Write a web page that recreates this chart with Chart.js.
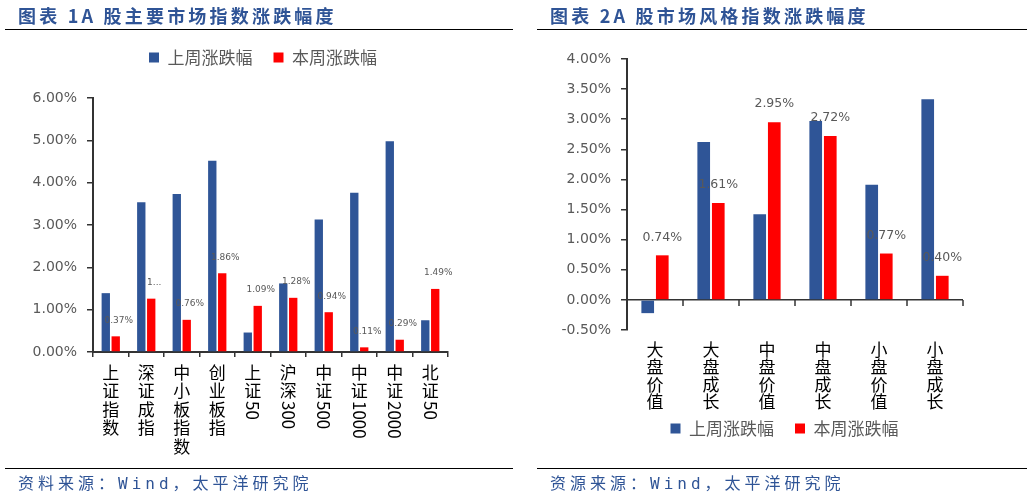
<!DOCTYPE html>
<html lang="zh-CN">
<head>
<meta charset="utf-8">
<title>A股市场指数涨跌幅度</title>
<script src="https://cdn.jsdelivr.net/npm/chart.js@4.4.1/dist/chart.umd.min.js"></script>
<style>
  html, body { margin: 0; padding: 0; background: #fff; }
  #page { position: relative; width: 1032px; height: 500px; overflow: hidden; }
  canvas { position: absolute; top: 0; }
  .title { position: absolute; top: 5px; font: bold 18px "Noto Sans CJK SC"; color: #2F5496; letter-spacing: 3.2px; line-height: 21px; white-space: nowrap; }
  .rule { position: absolute; height: 1px; background: #000; }
  .source { position: absolute; top: 474px; font: 16px "DejaVu Sans Mono", "Noto Sans CJK SC"; color: #2F5496; letter-spacing: 4px; line-height: 20px; white-space: nowrap; }
</style>
</head>
<body>
<div id="page">
  <canvas id="chart1" width="520" height="500" style="left:0"></canvas>
  <canvas id="chart2" width="512" height="500" style="left:520px"></canvas>

  <div class="title" style="left:18px">图表 1A 股主要市场指数涨跌幅度</div>
  <div class="title" style="left:550px">图表 2A 股市场风格指数涨跌幅度</div>
  <div class="rule" style="left:5px; top:29px; width:508px"></div>
  <div class="rule" style="left:537px; top:29px; width:490px"></div>
  <div class="rule" style="left:5px; top:468px; width:508px"></div>
  <div class="rule" style="left:537px; top:468px; width:490px"></div>
  <div class="source" style="left:18px">资料来源：Wind，太平洋研究院</div>
  <div class="source" style="left:550px">资源来源：Wind，太平洋研究院</div>
</div>

<script>
// ================== 数据 ==================
const seriesNames = ["上周涨跌幅", "本周涨跌幅"];

// 图表1：主要市场指数 (%)
const indexNames = ["上证指数", "深证成指", "中小板指数", "创业板指", "上证50", "沪深300", "中证500", "中证1000", "中证2000", "北证50"];
const indexLastWeek = [1.39, 3.54, 3.73, 4.52, 0.46, 1.62, 3.13, 3.76, 4.98, 0.75];
const indexThisWeek = [0.37, 1.26, 0.76, 1.86, 1.09, 1.28, 0.94, 0.11, 0.29, 1.49];
// 原图第二个标签被截断
const indexThisWeekText = ["0.37%", "1...", "0.76%", "1.86%", "1.09%", "1.28%", "0.94%", "0.11%", "0.29%", "1.49%"];

// 图表2：风格指数 (%)
const styleNames = ["大盘价值", "大盘成长", "中盘价值", "中盘成长", "小盘价值", "小盘成长"];
const styleLastWeek = [-0.22, 2.62, 1.42, 2.97, 1.91, 3.33];
const styleThisWeek = [0.74, 1.61, 2.95, 2.72, 0.77, 0.40];

const BLUE = "#2F5597";
const RED = "#FF0000";
const AXIS = "#333333";
const GREY = "#595959";

const pct = v => Number(v).toFixed(2) + "%";

// ================== 插件 ==================
// 竖排的类别标签：汉字正立，数字旋转
function verticalLabels(top, pitch) {
  return {
    id: "verticalLabels",
    afterDraw(chart) {
      const ctx = chart.ctx, xs = chart.scales.x;
      ctx.save();
      ctx.font = '17px "Noto Sans CJK SC"';
      ctx.fillStyle = "#000";
      chart.data.labels.forEach((label, i) => {
        const cx = xs.getPixelForValue(i);
        let y = top;
        label.match(/[\x00-\x7f]+|[^\x00-\x7f]/g).forEach(part => {
          if (/^[\x00-\x7f]/.test(part)) {
            ctx.save();
            ctx.translate(cx, y + 1);
            ctx.rotate(Math.PI / 2);
            ctx.textAlign = "left";
            ctx.textBaseline = "middle";
            ctx.fillText(part, 0, 0);
            ctx.restore();
            y += ctx.measureText(part).width;
          } else {
            ctx.textAlign = "center";
            ctx.textBaseline = "middle";
            ctx.fillText(part, cx, y + pitch / 2);
            y += pitch;
          }
        });
      });
      ctx.restore();
    }
  };
}

// 本周涨跌幅的数据标签
function barValueLabels(texts, font, lift, dx) {
  return {
    id: "barValueLabels",
    afterDatasetsDraw(chart) {
      const ctx = chart.ctx;
      ctx.save();
      ctx.font = font;
      ctx.fillStyle = GREY;
      ctx.textAlign = "center";
      ctx.textBaseline = "middle";
      chart.getDatasetMeta(1).data.forEach((bar, i) => {
        ctx.fillText(texts[i], bar.x + dx, bar.y - lift);
      });
      ctx.restore();
    }
  };
}

// 图例下方多留一点空
function legendGap(extra) {
  return {
    id: "legendGap",
    beforeLayout(chart) {
      const lg = chart.legend;
      if (!lg || lg._gapPatched) return;
      const fit = lg.fit;
      lg.fit = function () { fit.call(this); this.height += extra; };
      lg._gapPatched = true;
    }
  };
}

// 零轴上的刻度线
const zeroTicks = {
  id: "zeroTicks",
  afterDraw(chart) {
    const ctx = chart.ctx, xs = chart.scales.x;
    const y0 = chart.scales.y.getPixelForValue(0);
    ctx.save();
    ctx.strokeStyle = AXIS;
    ctx.lineWidth = 1.5;
    for (let i = 0; i <= chart.data.labels.length; i++) {
      const px = Math.round(xs.getPixelForValue(i - 0.5));
      ctx.beginPath();
      ctx.moveTo(px, y0);
      ctx.lineTo(px, y0 + 6);
      ctx.stroke();
    }
    ctx.restore();
  }
};

// 右侧空白轴，只占位置（让图例居中的位置和原图一致）
function spacerAxis(width) {
  return {
    type: "linear", position: "right", display: true,
    grid: { display: false }, border: { display: false }, ticks: { display: false },
    afterFit: s => { s.width = width; }
  };
}

const legendLabels = {
  boxWidth: 10, boxHeight: 10, padding: 21, color: GREY,
  font: { family: "Noto Sans CJK SC", size: 17 }
};
const tickFont = { family: "DejaVu Sans", size: 14 };

// ================== 图表1 ==================
new Chart(document.getElementById("chart1"), {
  type: "bar",
  data: {
    labels: indexNames,
    datasets: [
      { label: seriesNames[0], data: indexLastWeek, backgroundColor: BLUE },
      { label: seriesNames[1], data: indexThisWeek, backgroundColor: RED }
    ]
  },
  options: {
    responsive: false,
    animation: false,
    layout: { padding: { top: 28, left: 20, right: 14, bottom: 0 } },
    datasets: { bar: { categoryPercentage: 0.56, barPercentage: 0.84 } },
    plugins: {
      legend: { position: "top", labels: legendLabels },
      tooltip: { enabled: false }
    },
    scales: {
      x: {
        grid: { offset: true, drawOnChartArea: false, tickLength: 5, color: AXIS, lineWidth: 1.5 },
        border: { color: AXIS, width: 2 },
        ticks: { display: false },
        afterFit: s => { s.height = 148; }
      },
      y: {
        min: 0, max: 6,
        ticks: { stepSize: 1, padding: 10, color: GREY, font: tickFont, callback: pct },
        grid: { drawOnChartArea: false, tickLength: 6, color: AXIS, lineWidth: 1.5 },
        border: { color: AXIS, width: 2 },
        afterFit: s => { s.width = 73; }
      },
      pad: spacerAxis(58)
    }
  },
  plugins: [
    legendGap(22),
    verticalLabels(363, 18.5),
    barValueLabels(indexThisWeekText, '9px "DejaVu Sans"', 16, 3)
  ]
});

// ================== 图表2 ==================
new Chart(document.getElementById("chart2"), {
  type: "bar",
  data: {
    labels: styleNames,
    datasets: [
      { label: seriesNames[0], data: styleLastWeek, backgroundColor: BLUE },
      { label: seriesNames[1], data: styleThisWeek, backgroundColor: RED }
    ]
  },
  options: {
    responsive: false,
    animation: false,
    layout: { padding: { top: 59, left: 20, right: 3, bottom: 53 } },
    datasets: { bar: { categoryPercentage: 0.52, barPercentage: 0.87 } },
    plugins: {
      legend: { position: "bottom", labels: legendLabels },
      tooltip: { enabled: false }
    },
    scales: {
      x: {
        grid: { display: false },
        border: { display: false },
        ticks: { display: false },
        afterFit: s => { s.height = 69; }
      },
      y: {
        min: -0.5, max: 4,
        ticks: { stepSize: 0.5, padding: 10, color: GREY, font: tickFont, callback: pct },
        grid: {
          color: c => (c.tick && c.tick.value === 0 ? AXIS : "rgba(0,0,0,0)"),
          lineWidth: 1.5, tickColor: AXIS, tickLength: 6
        },
        border: { color: AXIS, width: 2 },
        afterFit: s => { s.width = 87; }
      },
      pad: spacerAxis(66)
    }
  },
  plugins: [
    zeroTicks,
    verticalLabels(340.5, 17.5),
    barValueLabels(styleThisWeek.map(pct), '12.5px "DejaVu Sans"', 18, 0)
  ]
});
</script>
</body>
</html>
